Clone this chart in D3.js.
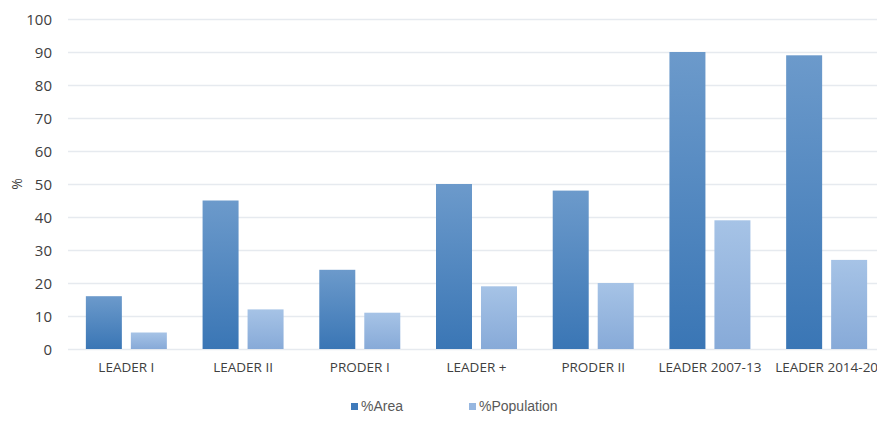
<!DOCTYPE html>
<html><head><meta charset="utf-8">
<script src="https://cdn.jsdelivr.net/npm/d3@7/dist/d3.min.js"></script>
<style>
html,body{margin:0;padding:0;background:#fff;overflow:hidden}
svg{display:block}
</style></head>
<body><svg id="c" width="877" height="422"></svg>
<script>
const categories = ["LEADER I","LEADER II","PRODER I","LEADER +","PRODER II","LEADER 2007-13","LEADER 2014-20"];
const areaValues = [16,45,24,50,48,90,89];
const populationValues = [5,12,11,19,20,39,27];
const yTicks = [0,10,20,30,40,50,60,70,80,90,100];
const seriesNames = ["%Area","%Population"];

(function(){
const svg = d3.select("#c");
const defs = svg.append("defs");
const g1 = defs.append("linearGradient").attr("id","gA").attr("x1",0).attr("y1",0).attr("x2",0).attr("y2",1);
g1.append("stop").attr("offset","0%").attr("stop-color","#6c9acb");
g1.append("stop").attr("offset","100%").attr("stop-color","#3a76b5");
const g2 = defs.append("linearGradient").attr("id","gP").attr("x1",0).attr("y1",0).attr("x2",0).attr("y2",1);
g2.append("stop").attr("offset","0%").attr("stop-color","#a6c3e6");
g2.append("stop").attr("offset","100%").attr("stop-color","#87aad8");

const mLeft = 68, mRight = 885, mTop = 19, mBottom = 349;
const x = d3.scaleBand().domain(categories).range([mLeft,mRight]).paddingInner(0).paddingOuter(0);
const y = d3.scaleLinear().domain([0,100]).range([mBottom,mTop]);
const inner = d3.scaleBand().domain(seriesNames).range([0,x.bandwidth()]).paddingInner(0.2).paddingOuter(0.397);

svg.append("g").selectAll("line").data(yTicks).join("line")
  .attr("x1",mLeft).attr("x2",877)
  .attr("y1",d=>y(d)+0.5).attr("y2",d=>y(d)+0.5)
  .attr("stroke","#e6eaef").attr("stroke-width",1.5);

const yAxis = d3.axisLeft(y).tickValues(yTicks).tickSize(0).tickPadding(0);
const ya = svg.append("g").attr("transform",`translate(${mLeft-16},0)`).call(yAxis);
ya.select(".domain").remove();
ya.selectAll("text").attr("font-family","'Open Sans', sans-serif").attr("font-size","15px").attr("fill","#404040").attr("dy","0.35em");

svg.append("text").attr("transform","translate(22,184) rotate(-90)")
  .attr("text-anchor","middle").attr("font-family","'Open Sans', sans-serif").attr("font-size","14px").attr("fill","#404040").text("%");

const data = categories.map((c,i)=>({c, vals:[{s:"%Area",v:areaValues[i]},{s:"%Population",v:populationValues[i]}]}));
const grp = svg.append("g").selectAll("g").data(data).join("g").attr("transform",d=>`translate(${x(d.c)},0)`);
grp.selectAll("rect").data(d=>d.vals).join("rect")
  .attr("x",d=>inner(d.s)).attr("width",inner.bandwidth())
  .attr("y",d=>y(d.v)).attr("height",d=>mBottom-y(d.v))
  .attr("fill",d=>d.s==="%Area"?"url(#gA)":"url(#gP)");

const xAxis = d3.axisBottom(x).tickSize(0).tickPadding(0);
const xa = svg.append("g").attr("transform",`translate(0,${mBottom+13})`).call(xAxis);
xa.select(".domain").remove();
xa.selectAll("text").attr("font-family","'Open Sans', sans-serif").attr("font-size","13.5px").attr("fill","#404040").attr("dy","0.71em");

const legend = [{n:"%Area",x:351,c:"#3f7aba"},{n:"%Population",x:469,c:"#97b7e0"}];
const lg = svg.append("g").selectAll("g").data(legend).join("g").attr("transform",d=>`translate(${d.x},403)`);
lg.append("rect").attr("width",7).attr("height",7).attr("y",0).attr("fill",d=>d.c);
lg.append("text").attr("x",10).attr("y",8).attr("font-family","'Liberation Sans', Arial, sans-serif").attr("font-size","14px").attr("fill","#595959").text(d=>d.n);
})();
</script></body></html>
